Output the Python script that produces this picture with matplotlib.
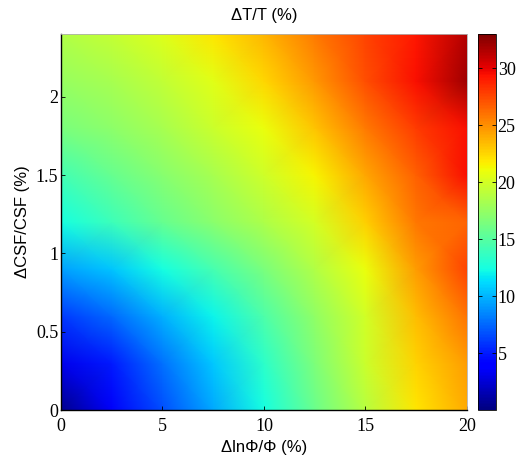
import numpy as np
import matplotlib
matplotlib.use("Agg")
import matplotlib.pyplot as plt

x_vals = [0, 2.5, 5, 7.5, 10, 12.5, 15, 17.5, 20]
y_vals = [0, 0.3, 0.6, 0.9, 1.2, 1.5, 1.8, 2.1, 2.4]

# dT/T (%) at each grid node, one row per y value
row_00 = [0.5, 3.5, 6.6, 9.6, 12.4, 15.8, 18.9, 22.0, 24.0]
row_03 = [3.2, 5.0, 7.8, 10.6, 13.4, 16.5, 19.6, 22.6, 24.5]
row_06 = [6.0, 7.6, 9.8, 12.0, 14.6, 17.4, 19.9, 23.4, 26.0]
row_09 = [9.3, 10.5, 12.4, 14.4, 16.4, 18.6, 21.0, 24.6, 27.7]
row_12 = [12.4, 14.0, 15.6, 17.1, 18.5, 20.0, 22.8, 25.8, 26.5]
row_15 = [14.2, 15.7, 17.0, 18.3, 19.8, 21.4, 24.2, 26.6, 29.5]
row_18 = [16.4, 17.2, 18.2, 19.6, 21.0, 23.2, 25.7, 27.9, 29.5]
row_21 = [17.6, 18.3, 19.3, 20.6, 22.5, 24.7, 27.2, 29.5, 32.0]
row_24 = [18.6, 19.4, 20.4, 22.0, 23.7, 25.7, 27.7, 29.2, 31.5]

Z = np.array([row_00, row_03, row_06, row_09, row_12,
              row_15, row_18, row_21, row_24])
X, Y = np.meshgrid(x_vals, y_vals)

fig = plt.figure(figsize=(5.17, 4.67), dpi=100)
ax = fig.add_axes([0.118, 0.122, 0.785, 0.805])
cax = fig.add_axes([0.925, 0.122, 0.035, 0.805])

mesh = ax.pcolormesh(X, Y, Z, shading='gouraud', cmap='jet', vmin=0, vmax=33)
ax.set_xlim(0, 20)
ax.set_ylim(0, 2.4)

serif = ['Liberation Serif', 'DejaVu Serif']
sans = ['Liberation Sans', 'DejaVu Sans']

ax.set_xticks([0, 5, 10, 15, 20])
ax.set_yticks([0, 0.5, 1, 1.5, 2])
ax.set_yticklabels(['0', '0.5', '1', '1.5', '2'])
for lab in ax.get_xticklabels() + ax.get_yticklabels():
    lab.set_family(serif)
    lab.set_fontsize(13)
ax.tick_params(direction='in', length=3, width=0.6, pad=2)
ax.tick_params(axis='x', pad=6)

ax.set_xlabel('ΔlnΦ/Φ (%)', family=sans, fontsize=12, labelpad=3)
ax.set_ylabel('ΔCSF/CSF (%)', family=sans, fontsize=12, labelpad=4)
ax.set_title('ΔT/T (%)', family=sans, fontsize=12, pad=10)

for s in ['left', 'bottom']:
    ax.spines[s].set_linewidth(1.0)
for s in ['top', 'right']:
    ax.spines[s].set_color('#b0b0b0')
    ax.spines[s].set_linewidth(0.6)

cb = fig.colorbar(mesh, cax=cax, ticks=[5, 10, 15, 20, 25, 30])
cb.ax.tick_params(direction='in', length=3, width=0.6, pad=1,
                  left=True, right=True)
for lab in cb.ax.get_yticklabels():
    lab.set_family(serif)
    lab.set_fontsize(13)
cb.outline.set_linewidth(0.6)

fig.savefig('out.png', dpi=100)
